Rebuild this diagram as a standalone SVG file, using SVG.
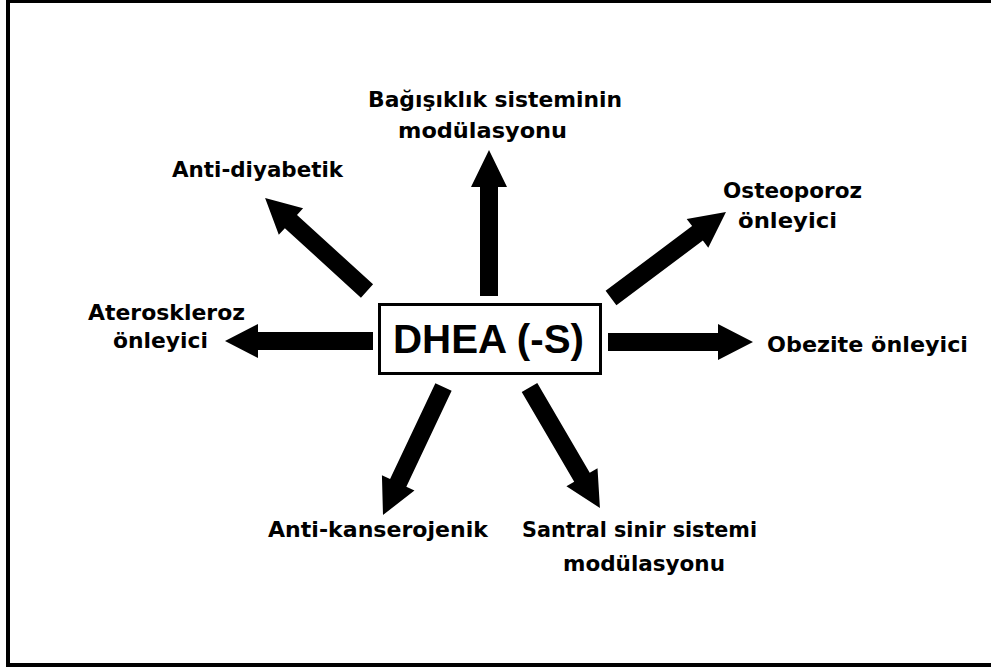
<svg xmlns="http://www.w3.org/2000/svg" width="991" height="671" viewBox="0 0 991 671">
<style>
.lbl{font-family:"DejaVu Sans","Liberation Sans",sans-serif;font-weight:bold;font-size:22px;fill:#000}
.main{font-family:"Liberation Sans",Arial,sans-serif;font-weight:bold;font-size:41px;fill:#000}
.arr{fill:#000;stroke:none}
</style>
<rect x="0" y="0" width="991" height="671" fill="#fff"/>
<rect x="8" y="1" width="1000" height="664" fill="none" stroke="#000" stroke-width="4"/>
<g id="connectors">
  <path class="arr" transform="translate(489,296) rotate(-90)" d="M0,-9 L109,-9 L109,-18 L146,0 L109,18 L109,9 L0,9 Z"/>
  <path class="arr" transform="translate(373,341) rotate(180)" d="M0,-9 L115,-9 L115,-17 L148,0 L115,17 L115,9 L0,9 Z"/>
  <path class="arr" transform="translate(608,342) rotate(0)" d="M0,-9 L110,-9 L110,-18 L145,0 L110,18 L110,9 L0,9 Z"/>
  <path class="arr" transform="translate(367,291) rotate(-137.6)" d="M0,-9 L103,-9 L103,-18 L138,0 L103,18 L103,9 L0,9 Z"/>
  <path class="arr" transform="translate(611,298) rotate(-36.8)" d="M0,-9 L108,-9 L108,-18 L143.6,0 L108,18 L108,9 L0,9 Z"/>
  <path class="arr" transform="translate(443.5,387) rotate(115.3)" d="M0,-9 L106,-9 L106,-18 L141.6,0 L106,18 L106,9 L0,9 Z"/>
  <path class="arr" transform="translate(529.5,387.5) rotate(59.7)" d="M0,-9 L104,-9 L104,-18 L139.6,0 L104,18 L104,9 L0,9 Z"/>
</g>
<g id="center">
  <rect x="379.5" y="304.5" width="221" height="69" fill="#fff" stroke="#000" stroke-width="3"/>
  <text class="main" x="393" y="353" textLength="191" lengthAdjust="spacingAndGlyphs">DHEA (-S)</text>
</g>
<g id="n-bagisiklik">
  <text class="lbl" x="368" y="107" textLength="254" lengthAdjust="spacingAndGlyphs">Bağışıklık sisteminin</text>
  <text class="lbl" x="398" y="138" textLength="169" lengthAdjust="spacingAndGlyphs">modülasyonu</text>
</g>
<g id="n-antidiyabetik">
  <text class="lbl" x="172" y="177" textLength="171" lengthAdjust="spacingAndGlyphs">Anti-diyabetik</text>
</g>
<g id="n-ateroskleroz">
  <text class="lbl" x="88" y="320" textLength="157" lengthAdjust="spacingAndGlyphs">Ateroskleroz</text>
  <text class="lbl" x="113" y="348" textLength="95" lengthAdjust="spacingAndGlyphs">önleyici</text>
</g>
<g id="n-osteoporoz">
  <text class="lbl" x="723" y="198" textLength="139" lengthAdjust="spacingAndGlyphs">Osteoporoz</text>
  <text class="lbl" x="738" y="228" textLength="99" lengthAdjust="spacingAndGlyphs">önleyici</text>
</g>
<g id="n-obezite">
  <text class="lbl" x="767" y="352" textLength="201" lengthAdjust="spacingAndGlyphs">Obezite önleyici</text>
</g>
<g id="n-antikanserojenik">
  <text class="lbl" x="268" y="537" textLength="220" lengthAdjust="spacingAndGlyphs">Anti-kanserojenik</text>
</g>
<g id="n-santral">
  <text class="lbl" x="522" y="537" textLength="235" lengthAdjust="spacingAndGlyphs">Santral sinir sistemi</text>
  <text class="lbl" x="563" y="571" textLength="162" lengthAdjust="spacingAndGlyphs">modülasyonu</text>
</g>
</svg>
